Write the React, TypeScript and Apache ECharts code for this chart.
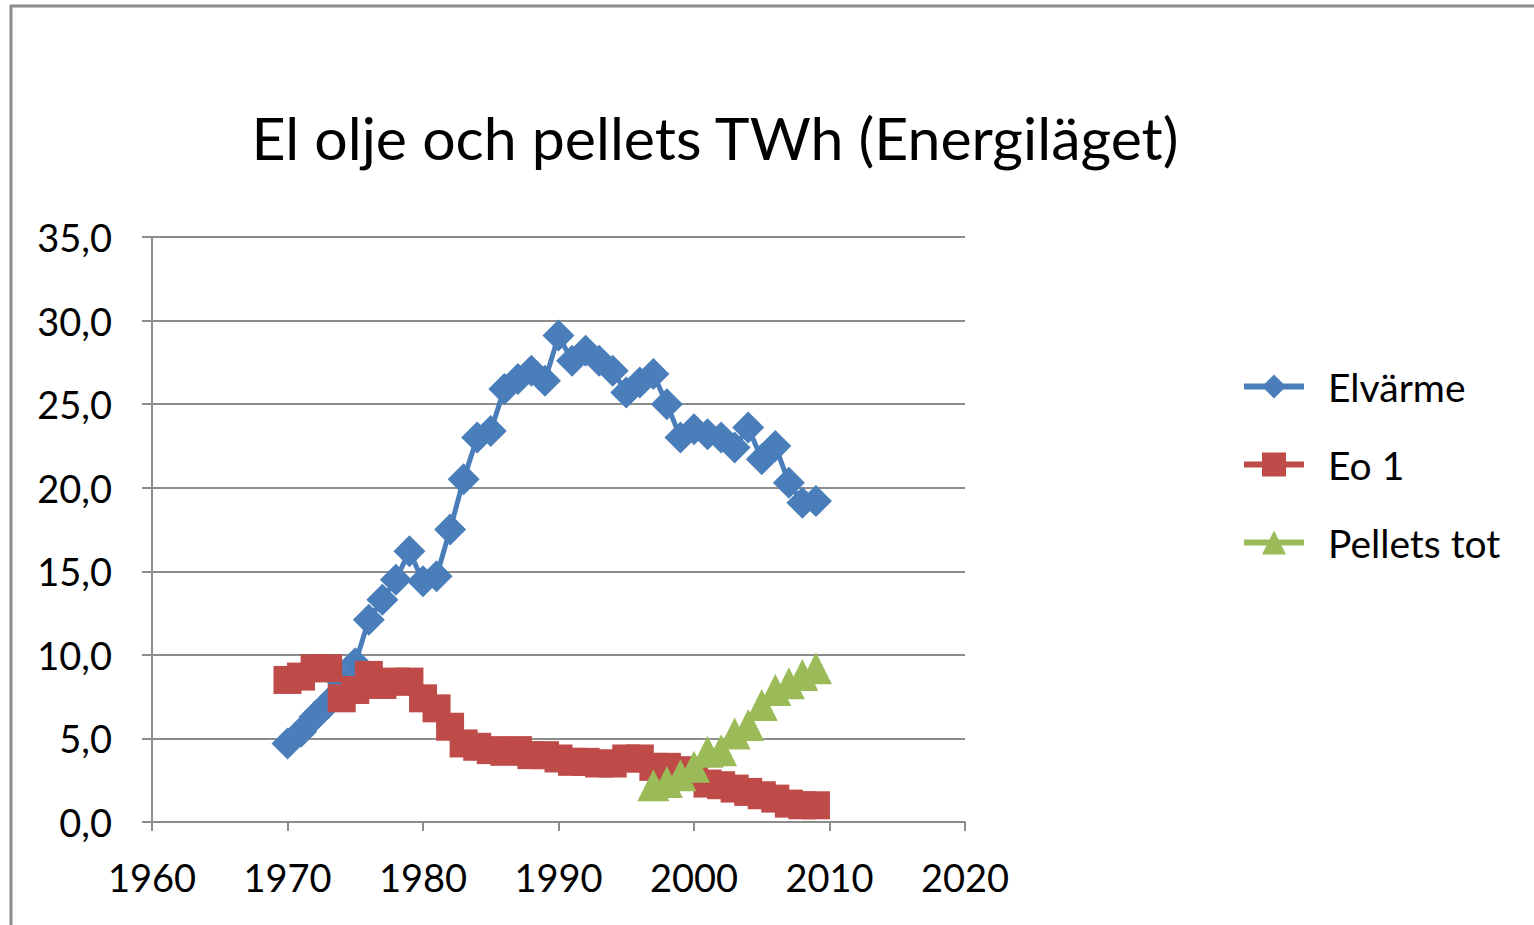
import React, { useEffect, useRef } from "react";
import * as echarts from "echarts";

const years: number[] = [
  1970, 1971, 1972, 1973, 1974, 1975, 1976, 1977, 1978, 1979,
  1980, 1981, 1982, 1983, 1984, 1985, 1986, 1987, 1988, 1989,
  1990, 1991, 1992, 1993, 1994, 1995, 1996, 1997, 1998, 1999,
  2000, 2001, 2002, 2003, 2004, 2005, 2006, 2007, 2008, 2009,
];

const elvarme: number[] = [
  4.7, 5.4, 6.3, 7.1, 8.4, 9.5, 12.1, 13.3, 14.5, 16.2,
  14.4, 14.7, 17.5, 20.5, 23.0, 23.4, 25.9, 26.5, 27.0, 26.4,
  29.1, 27.6, 28.2, 27.6, 27.0, 25.7, 26.3, 26.8, 25.0, 23.0,
  23.5, 23.2, 23.0, 22.4, 23.6, 21.7, 22.5, 20.3, 19.1, 19.2,
];

const eo1: number[] = [
  8.5, 8.7, 9.2, 9.2, 7.4, 7.9, 8.8, 8.2, 8.4, 8.4,
  7.4, 6.8, 5.7, 4.7, 4.5, 4.3, 4.2, 4.3, 4.0, 4.0,
  3.8, 3.6, 3.6, 3.5, 3.5, 3.8, 3.8, 3.3, 3.3, 3.1,
  2.7, 2.3, 2.2, 2.0, 1.8, 1.6, 1.4, 1.1, 1.0, 1.0,
];

const pelletsYears: number[] = [1997, 1998, 1999, 2000, 2001, 2002, 2003, 2004, 2005, 2006, 2007, 2008, 2009];
const pellets: number[] = [2.2, 2.4, 2.8, 3.3, 4.2, 4.3, 5.3, 5.8, 7.0, 7.9, 8.3, 8.8, 9.2];

const seriesNames: string[] = ["Elvärme", "Eo 1", "Pellets tot"];
const titleText = "El olje och pellets TWh (Energiläget)";

const FONT = "Lato, 'Noto Sans', sans-serif";

export default function App() {
  const ref = useRef<HTMLDivElement>(null);
  useEffect(() => {
    if (!ref.current) return;
    const chart = echarts.init(ref.current, undefined, { renderer: "svg" });
    const pair = (xs: number[], ys: number[]) => xs.map((x, i) => [x, ys[i]]);
    chart.setOption({
      animation: false,
      backgroundColor: "#ffffff",
      graphic: [
        {
          type: "rect",
          shape: { x: 11, y: 6, width: 1600, height: 1000 },
          style: { fill: "none", stroke: "#8c8c8c", lineWidth: 3 },
          silent: true,
        },
        {
          type: "text",
          x: 715,
          y: 137,
          style: {
            text: titleText,
            fontSize: 59,
            fontFamily: FONT,
            fill: "#000000",
            textAlign: "center",
            textVerticalAlign: "middle",
          },
        },
      ],
      grid: { left: 152, right: 569, top: 237, bottom: 103, containLabel: false },
      xAxis: {
        type: "value",
        min: 1960,
        max: 2020,
        interval: 10,
        axisLine: { show: true, onZero: false, lineStyle: { color: "#8c8c8c", width: 2 } },
        axisTick: { show: true, length: 9, lineStyle: { color: "#8c8c8c", width: 2 } },
        splitLine: { show: false },
        axisLabel: {
          color: "#000",
          fontSize: 38,
          fontFamily: FONT,
          margin: 36,
          formatter: (v: number) => String(v),
        },
      },
      yAxis: {
        type: "value",
        min: 0,
        max: 35,
        interval: 5,
        axisLine: { show: true, lineStyle: { color: "#8c8c8c", width: 2 } },
        axisTick: { show: true, length: 10, lineStyle: { color: "#8c8c8c", width: 2 } },
        splitLine: { show: true, lineStyle: { color: "#8c8c8c", width: 2 } },
        axisLabel: {
          color: "#000",
          fontSize: 38,
          fontFamily: FONT,
          margin: 40,
          formatter: (v: number) => v.toFixed(1).replace(".", ","),
        },
      },
      legend: {
        orient: "vertical",
        left: 1236,
        top: 362,
        itemWidth: 60,
        itemHeight: 30,
        itemGap: 39,
        data: seriesNames,
        lineStyle: { width: 6 },
        textStyle: { fontSize: 39, fontFamily: FONT, color: "#000", padding: [0, 0, 0, 19] },
      },
      series: [
        {
          name: seriesNames[0],
          type: "line",
          data: pair(years, elvarme),
          symbol: "diamond",
          symbolSize: 32,
          color: "#4a7ebb",
          lineStyle: { width: 5, color: "#4a7ebb" },
          itemStyle: { color: "#4a7ebb" },
        },
        {
          name: seriesNames[1],
          type: "line",
          data: pair(years, eo1),
          symbol: "rect",
          symbolSize: 28,
          color: "#be4b48",
          lineStyle: { width: 5, color: "#be4b48" },
          itemStyle: { color: "#be4b48" },
        },
        {
          name: seriesNames[2],
          type: "line",
          data: pair(pelletsYears, pellets),
          symbol: "triangle",
          symbolSize: 32,
          color: "#9bbb59",
          lineStyle: { width: 5, color: "#9bbb59" },
          itemStyle: { color: "#9bbb59" },
        },
      ],
    });
    return () => chart.dispose();
  }, []);
  return (
    <div
      ref={ref}
      style={{ position: "absolute", left: 0, top: 0, width: 1534, height: 925 }}
    />
  );
}
